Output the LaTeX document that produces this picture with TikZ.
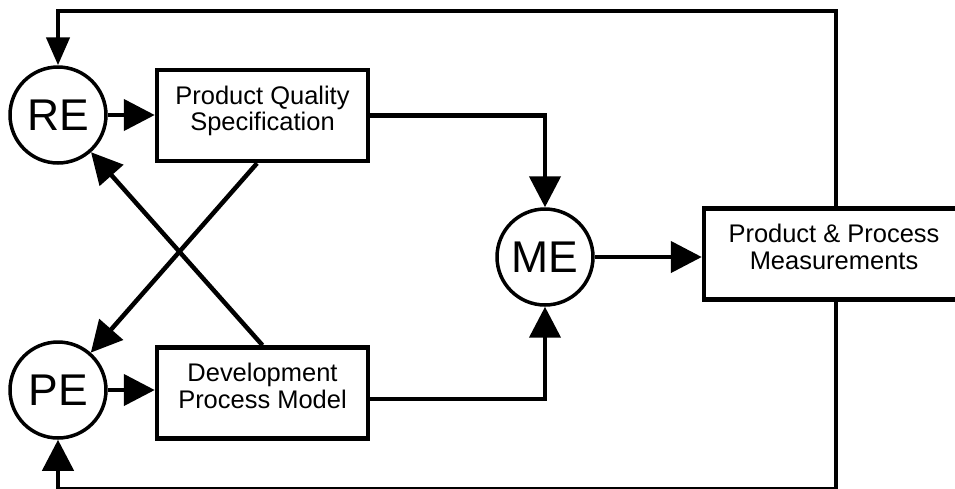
\documentclass[tikz,border=0pt]{standalone}
\usepackage{fontspec}
\setmainfont{Liberation Sans}
\usetikzlibrary{arrows.meta}

\begin{document}
\begin{tikzpicture}[x=0.02cm,y=-0.02cm,
  wire/.style={line width=0.09cm},
  flow/.style={wire,-{Triangle[length=0.62cm,width=0.62cm]}},
  slimflow/.style={wire,-{Triangle[length=0.56cm,width=0.46cm]}},
  ball/.style={circle,draw,line width=0.07cm,minimum size=1.92cm,inner sep=0pt,
    font=\fontsize{25.3}{28}\selectfont},
  block/.style={draw,line width=0.09cm,minimum width=4.22cm,minimum height=1.82cm},
  blocktext/.style={align=center,font=\fontsize{14.5}{15}\selectfont}]

  \useasboundingbox (0,0) rectangle (955,488);

  \node[ball] (re) at (58,115) {RE};
  \node[ball] (pe) at (58,390) {PE};
  \node[ball] (me) at (545,257) {ME};

  \node[block] (pqs) at (262.5,115.5) {};
  \node[blocktext] (pqslabel) at (262.5,111) {Product Quality\\Specification};
  \node[block] (dpm) at (262.5,393) {};
  \node[blocktext] (dpmlabel) at (262.5,386) {Development\\Process Model};
  \node[block,minimum width=5.28cm] (ppm) at (836,254) {};
  \node[blocktext] (ppmlabel) at (834,247) {Product \& Process\\Measurements};

  \coordinate (topline) at (0,11);
  \coordinate (botline) at (0,489.5);

  \draw[flow] (re.east) -- (re.east -| pqs.west);
  \draw[flow] (pe.east) -- (pe.east -| dpm.west);
  \draw[flow] (me.east) -- (me.east -| ppm.west);

  \draw[flow] (pqs.east) -| (me.north);
  \draw[flow] ([yshift=-3.4pt]dpm.east) -| (me.south);

  \draw[flow] ([xshift=-3.1pt]pqs.south) -- (pe);
  \draw[flow] (dpm.north) -- (re);

  \draw[slimflow] (ppm.north) |- (re.north |- topline) -- (re.north);
  \draw[flow] (ppm.south) |- (pe.south |- botline) -- (pe.south);

\end{tikzpicture}
\end{document}
